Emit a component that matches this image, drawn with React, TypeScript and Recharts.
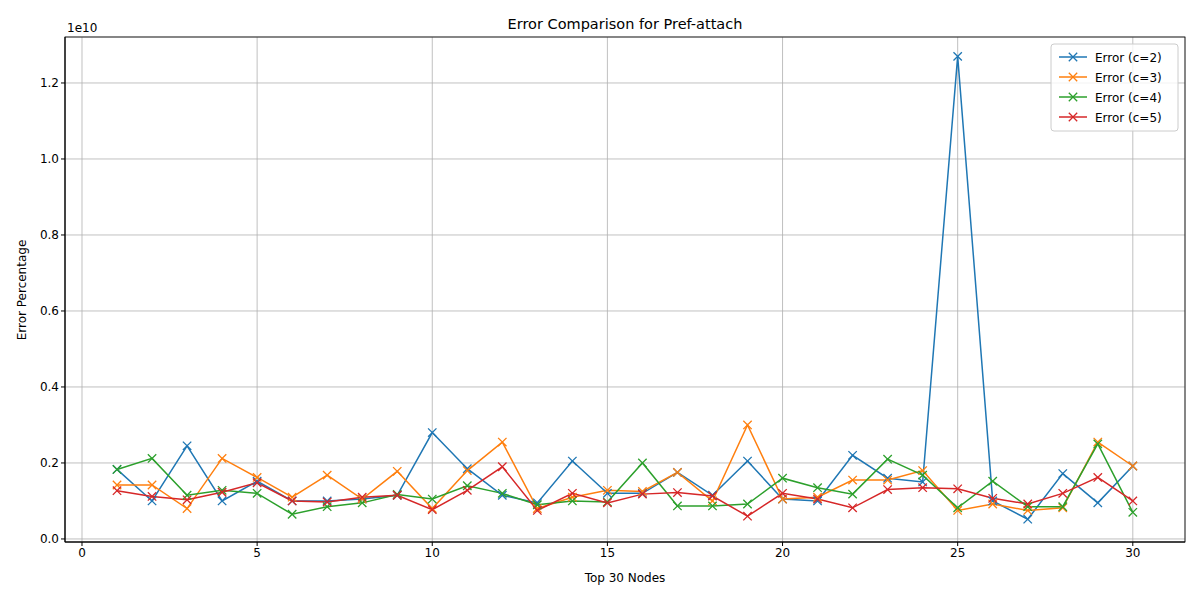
import { CartesianGrid, Line, LineChart, XAxis, YAxis } from "recharts";

const nodes = Array.from({ length: 30 }, (_, i) => i + 1);
const errC2 = [1.83, 1.0, 2.45, 1.0, 1.52, 1.0, 1.0, 1.05, 1.15, 2.8, 1.85, 1.15, 0.95, 2.05, 1.2, 1.2, 1.75, 1.15, 2.05, 1.05, 1.0, 2.2, 1.6, 1.5, 12.7, 1.0, 0.52, 1.72, 0.95, 1.92];
const errC3 = [1.42, 1.42, 0.8, 2.12, 1.62, 1.1, 1.68, 1.05, 1.78, 0.8, 1.8, 2.55, 0.8, 1.1, 1.28, 1.25, 1.75, 1.0, 3.0, 1.05, 1.1, 1.55, 1.55, 1.8, 0.75, 0.92, 0.75, 0.82, 2.55, 1.92];
const errC4 = [1.83, 2.12, 1.15, 1.28, 1.2, 0.65, 0.85, 0.95, 1.17, 1.05, 1.4, 1.2, 0.9, 1.0, 0.97, 2.0, 0.87, 0.87, 0.92, 1.6, 1.35, 1.18, 2.1, 1.68, 0.82, 1.52, 0.85, 0.85, 2.5, 0.7];
const errC5 = [1.27, 1.12, 1.03, 1.23, 1.48, 1.0, 0.97, 1.1, 1.15, 0.77, 1.28, 1.9, 0.75, 1.2, 0.95, 1.18, 1.22, 1.13, 0.6, 1.2, 1.05, 0.82, 1.3, 1.35, 1.32, 1.07, 0.92, 1.2, 1.62, 1.0];
const xTicks = [0, 5, 10, 15, 20, 25, 30];
const yTicks = [0, 0.2, 0.4, 0.6, 0.8, 1.0, 1.2];

// values above are in units of 1e9; axis is in units of 1e10
const data = nodes.map((n, i) => ({
  n,
  c2: errC2[i] / 10,
  c3: errC3[i] / 10,
  c4: errC4[i] / 10,
  c5: errC5[i] / 10,
}));

const series = [
  { key: "c2", name: "Error (c=2)", color: "#1f77b4" },
  { key: "c3", name: "Error (c=3)", color: "#ff7f0e" },
  { key: "c4", name: "Error (c=4)", color: "#2ca02c" },
  { key: "c5", name: "Error (c=5)", color: "#d62728" },
];

const font = "DejaVu Sans, sans-serif";

function Cross({ cx, cy, stroke }: any) {
  if (cx == null || cy == null) return null;
  const r = 4.2;
  return (
    <path
      d={`M${cx - r},${cy - r}L${cx + r},${cy + r}M${cx - r},${cy + r}L${cx + r},${cy - r}`}
      stroke={stroke}
      strokeWidth={1.3}
    />
  );
}

export default function App() {
  return (
    <div style={{ position: "absolute", left: 0, top: 0, width: 1200, height: 600, background: "#fff", fontFamily: font }}>
      <LineChart
        width={1200}
        height={600}
        data={data}
        margin={{ top: 37, right: 15, bottom: 28, left: 0 }}
      >
        <CartesianGrid stroke="#b0b0b0" strokeWidth={0.8} />
        <XAxis
          dataKey="n"
          type="number"
          height={30}
          domain={[-0.485, 31.49]}
          ticks={xTicks}
          allowDataOverflow
          stroke="#000"
          tick={{ fill: "#000", fontSize: 12, fontFamily: font }}
          tickSize={4}
        />
        <YAxis
          type="number"
          width={65}
          domain={[-0.008, 1.321]}
          ticks={yTicks}
          allowDataOverflow
          tickFormatter={(v: number) => v.toFixed(1)}
          stroke="#000"
          tick={{ fill: "#000", fontSize: 12, fontFamily: font }}
          tickSize={4}
        />
        <rect x={65} y={37} width={1120} height={505} fill="none" stroke="#000" strokeWidth={0.8} />
        {series.map((s) => (
          <Line
            key={s.key}
            dataKey={s.key}
            name={s.name}
            stroke={s.color}
            strokeWidth={1.5}
            dot={<Cross />}
            activeDot={false}
            isAnimationActive={false}
          />
        ))}
        <text x={625} y={29} textAnchor="middle" fontSize={14.5} fontFamily={font} fill="#000">
          Error Comparison for Pref-attach
        </text>
        <text x={67} y={32} fontSize={12} fontFamily={font} fill="#000">
          1e10
        </text>
        <text x={625} y={582} textAnchor="middle" fontSize={12} fontFamily={font} fill="#000">
          Top 30 Nodes
        </text>
        <text x={26} y={290} textAnchor="middle" fontSize={12} fontFamily={font} fill="#000" transform="rotate(-90 26 290)">
          Error Percentage
        </text>
        <g>
          <rect x={1051} y={44} width={127} height={87} rx={3} fill="#fff" fillOpacity={0.8} stroke="#ccc" />
          {series.map((s, i) => {
            const y = 57 + i * 20;
            return (
              <g key={s.key}>
                <line x1={1059} x2={1087} y1={y} y2={y} stroke={s.color} strokeWidth={1.5} />
                <Cross cx={1073} cy={y} stroke={s.color} />
                <text x={1095} y={y + 4.5} fontSize={12} fontFamily={font} fill="#000">
                  {s.name}
                </text>
              </g>
            );
          })}
        </g>
      </LineChart>
    </div>
  );
}
